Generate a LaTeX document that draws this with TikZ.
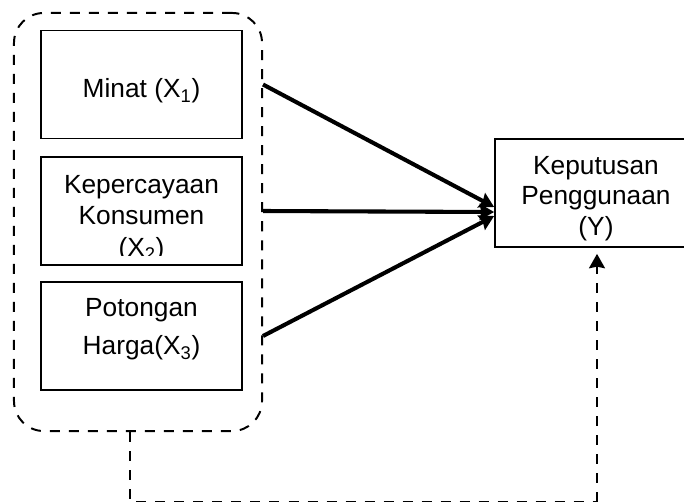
\documentclass[tikz,border=0pt]{standalone}
\usepackage{fontspec}
\setmainfont{Liberation Sans}
\usetikzlibrary{arrows.meta}
\usetikzlibrary{positioning}

\begin{document}
\begin{tikzpicture}[x=0.025cm, y=-0.025cm]
            \tikzset{every node/.style={font=\fontsize{18.7}{22.5}\selectfont},
                    box/.style={draw, line width=1.2pt, minimum width=5.025cm, minimum height=2.7cm, inner sep=0pt},
                    label/.style={align=center, inner sep=0pt},
                    group/.style={draw, line width=1.4pt, dash pattern=on 0.25cm off 0.225cm, rounded corners=0.75cm, minimum width=6.2cm, minimum height=10.45cm, inner sep=0pt},
                    >={Stealth[length=0.36cm, width=0.4cm, inset=0.04cm]},
                    link/.style={->, line width=2.9pt},
                    dashlink/.style={line width=1.4pt, dash pattern=on 0.25cm off 0.225cm}}
            \path[use as bounding box, clip] (0,0) rectangle (684,501);
            \node[group] (grp) at (138,222) {};
            \node[box] (x1) at (141.5,84.5) {};
            \node[label] (x1text) at (141.5,91) {Minat (X\textsubscript{1})};
            \node[box] (x2) at (141.5,211) {};
            \begin{scope}
                \clip (x2.north west) rectangle ([yshift=0.25cm]x2.south east);
                \node[label] (x2text) at (141.5,218.5) {Kepercayaan\\Konsumen\\(X\textsubscript{2})};
            \end{scope}
            \node[box] (x3) at (141.5,336) {};
            \node[label] (x3text) at (141.5,329.5) {Potongan\\[4.5pt]Harga(X\textsubscript{3})};
            \node[box, minimum width=5.05cm] (y) at (596,193) {};
            \node[label, font=\fontsize{18.7}{21.5}\selectfont] (ytext) at (596,198.5) {Keputusan\\Penggunaan\\(Y)};
            \draw[link] (grp.east |- x1) -- ([yshift=-0.35cm]y.west);
            \draw[link] (grp.east |- x2) -- ([yshift=-0.475cm]y.west);
            \draw[link] (grp.east |- x3) -- ([yshift=-0.575cm]y.west);
            \coordinate (c1) at (130,501.6);
            \coordinate (c2) at (597,501.6);
            \draw[dashlink] (grp.south -| c1) -- (c1) -- (c2);
            \draw[dashlink, ->, shorten >=0.15cm] (c2) -- (y.south -| c2);
        \end{tikzpicture}
\end{document}
